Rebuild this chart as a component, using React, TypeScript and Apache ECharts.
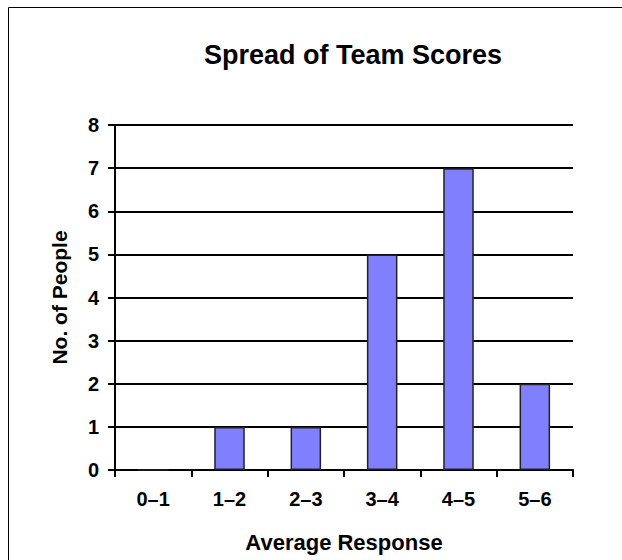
import React, { useEffect, useRef } from "react";
import * as echarts from "echarts";

const categories = ["0–1", "1–2", "2–3", "3–4", "4–5", "5–6"];
const counts = [0, 1, 1, 5, 7, 2];
const yTicks = { min: 0, max: 8, interval: 1 };

const FONT = "'Liberation Sans', Arial, sans-serif";

export default function App() {
  const ref = useRef<HTMLDivElement>(null);
  useEffect(() => {
    if (!ref.current) return;
    const chart = echarts.init(ref.current, null, { renderer: "svg" });
    chart.setOption({
      animation: false,
      backgroundColor: "#ffffff",
      title: {
        text: "Spread of Team Scores",
        left: 348,
        top: 36,
        textAlign: "center",
        textStyle: { fontFamily: FONT, fontWeight: "bold", fontSize: 27, color: "#000" },
      },
      graphic: [
        {
          type: "rect",
          shape: { x: 8.5, y: 7.5, width: 800, height: 800 },
          style: { fill: "none", stroke: "#000", lineWidth: 1 },
          silent: true,
        },
      ],
      grid: { left: 115, top: 125, right: 49, bottom: 90, containLabel: false },
      xAxis: {
        type: "category",
        data: categories,
        name: "Average Response",
        nameLocation: "middle",
        nameGap: 61,
        nameTextStyle: { fontFamily: FONT, fontWeight: "bold", fontSize: 22, color: "#000" },
        axisLine: { lineStyle: { color: "#000", width: 2 } },
        axisTick: { show: true, length: 7, alignWithLabel: false, lineStyle: { color: "#000", width: 2 } },
        axisLabel: { fontFamily: FONT, fontWeight: "bold", fontSize: 20, color: "#000", margin: 19 },
        splitLine: { show: false },
      },
      yAxis: {
        type: "value",
        min: yTicks.min,
        max: yTicks.max,
        interval: yTicks.interval,
        name: "No. of People",
        nameLocation: "middle",
        nameRotate: 90,
        nameGap: 45,
        nameTextStyle: { fontFamily: FONT, fontWeight: "bold", fontSize: 21, color: "#000" },
        axisLine: { show: true, lineStyle: { color: "#000", width: 2 } },
        axisTick: { show: true, length: 7, lineStyle: { color: "#000", width: 2 } },
        axisLabel: { fontFamily: FONT, fontWeight: "bold", fontSize: 20, color: "#000", margin: 16 },
        splitLine: { show: true, lineStyle: { color: "#000", width: 2 } },
      },
      series: [
        {
          type: "bar",
          data: counts,
          barWidth: "40%",
          itemStyle: { color: "#8080ff", borderColor: "#222", borderWidth: 1.5 },
        },
      ],
    });
    return () => chart.dispose();
  }, []);
  return (
    <div
      ref={ref}
      style={{ position: "absolute", left: 0, top: 0, width: 622, height: 560 }}
    />
  );
}
